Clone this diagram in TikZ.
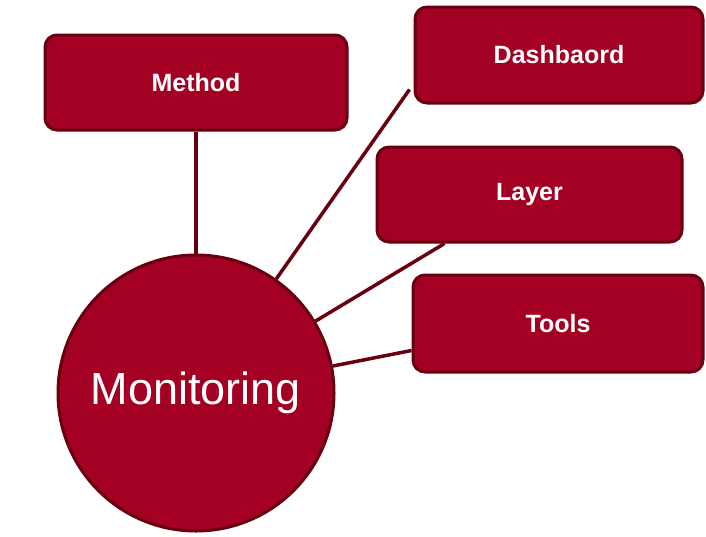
\documentclass[tikz,border=0pt]{standalone}
\usepackage{fontspec}
\setmainfont{Liberation Sans}
\definecolor{boxred}{RGB}{163,0,36}
\definecolor{edgered}{RGB}{105,0,16}
\begin{document}
\begin{tikzpicture}[x=1pt,y=-1pt,
  topic/.style={draw=edgered, line width=3pt, fill=boxred, rounded corners=12pt,
    text=white, font=\fontsize{25}{29}\selectfont\bfseries, inner sep=0pt},
  hub/.style={circle, draw=edgered, line width=3pt, fill=boxred, text=white,
    minimum size=276pt, inner sep=0pt, font=\fontsize{45}{54}\selectfont},
  link/.style={draw=edgered, line width=3.5pt}]
\useasboundingbox (0,0) rectangle (706,536);
\node[hub] (mon) at (196,393) {Monitoring};
\node[topic, minimum width=302pt, minimum height=95pt] (method) at (196,82.5) {Method};
\node[topic, minimum width=288pt, minimum height=96pt] (dash) at (559,55) {Dashbaord};
\node[topic, minimum width=305pt, minimum height=95pt] (layer) at (529.5,194.5) {Layer};
\node[topic, minimum width=290pt, minimum height=97pt] (tools) at (558,323.5) {Tools};

\draw[link] (method) -- (mon);
\draw[link] (mon) -- ([xshift=-4pt,yshift=15pt]dash.south west);
\draw[link] (mon) -- ([xshift=-85pt]layer.south);
\draw[link] (mon) -- ([yshift=-27pt]tools.west);
\end{tikzpicture}
\end{document}
